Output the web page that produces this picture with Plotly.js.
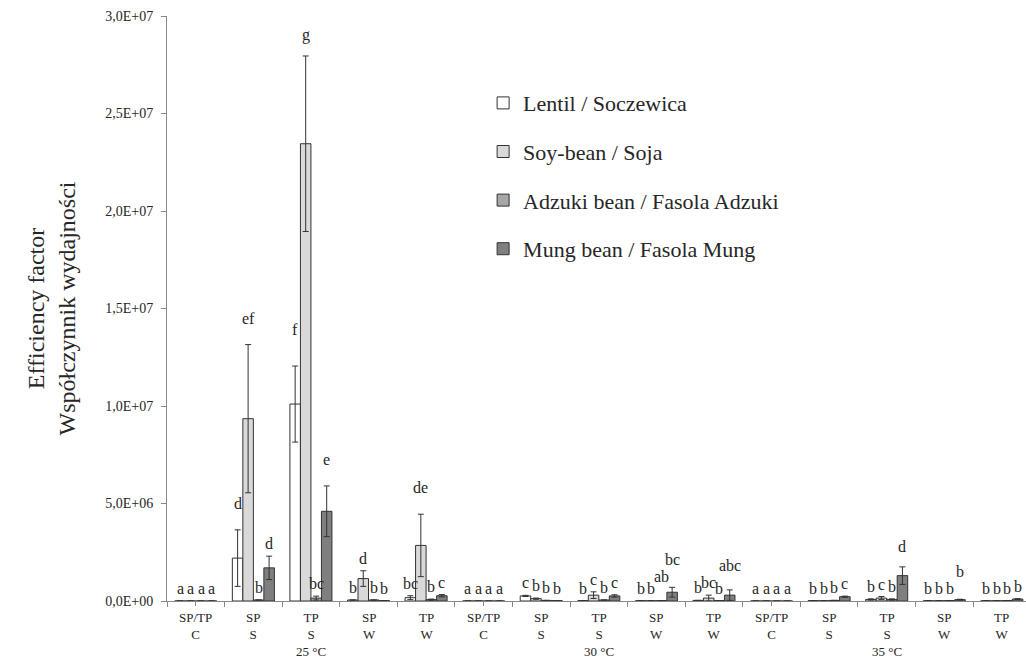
<!DOCTYPE html>
<html>
<head>
<meta charset="utf-8">
<script src="https://cdn.plot.ly/plotly-3.0.1.min.js"></script>
<style>html,body{margin:0;padding:0;background:#fff;}#chart{width:1026px;height:659px;}</style>
</head>
<body>
<div id="chart"></div>
<script>
// ---- data ----
const categories = ["SP/TP<br>C","SP<br>S","TP<br>S<br>25 °C","SP<br>W","TP<br>W",
                    "SP/TP<br>C","SP<br>S","TP<br>S<br>30 °C","SP<br>W","TP<br>W",
                    "SP/TP<br>C","SP<br>S","TP<br>S<br>35 °C","SP<br>W","TP<br>W"];
const seriesNames = ["Lentil / Soczewica","Soy-bean / Soja","Adzuki bean / Fasola Adzuki","Mung bean / Fasola Mung"];
const lentil    = [0, 2.2e6, 10.1e6, 0.05e6, 0.17e6, 0, 0.26e6, 0.02e6, 0.01e6, 0.03e6, 0, 0.02e6, 0.08e6, 0.01e6, 0.01e6];
const lentilErr = [0, 1.45e6, 1.95e6, 0, 0.1e6, 0, 0.03e6, 0, 0, 0, 0, 0, 0.03e6, 0, 0];
const soy       = [0, 9.35e6, 23.45e6, 1.15e6, 2.85e6, 0, 0.12e6, 0.3e6, 0.01e6, 0.15e6, 0, 0.01e6, 0.15e6, 0.01e6, 0.01e6];
const soyErr    = [0, 3.8e6, 4.5e6, 0.4e6, 1.6e6, 0, 0.03e6, 0.17e6, 0, 0.15e6, 0, 0, 0.08e6, 0, 0];
const adzuki    = [0, 0.05e6, 0.15e6, 0.05e6, 0.07e6, 0, 0.03e6, 0.05e6, 0.02e6, 0.02e6, 0, 0.03e6, 0.08e6, 0.02e6, 0.02e6];
const adzukiErr = [0, 0, 0.1e6, 0, 0.03e6, 0, 0, 0, 0, 0, 0, 0, 0.03e6, 0, 0];
const mung      = [0, 1.7e6, 4.6e6, 0.02e6, 0.27e6, 0, 0.02e6, 0.26e6, 0.45e6, 0.3e6, 0, 0.22e6, 1.3e6, 0.07e6, 0.1e6];
const mungErr   = [0, 0.6e6, 1.3e6, 0, 0.06e6, 0, 0, 0.06e6, 0.25e6, 0.27e6, 0, 0.03e6, 0.45e6, 0.02e6, 0.02e6];
const lentilLbl = ["a","d","f","b","bc","a","c","b","b","b","a","b","b","b","b"];
const soyLbl    = ["a","ef","g","d","de","a","b","c","b","bc","a","b","c","b","b"];
const adzukiLbl = ["a","b","bc","b","b","a","b","b","ab","b","a","b","b","b","b"];
const mungLbl   = ["a","d","e","b","c","a","b","c","bc","abc","a","c","d","b","b"];
const yTickVals = [0, 5e6, 1e7, 1.5e7, 2e7, 2.5e7, 3e7];
const yTickText = ["0,0E+00","5,0E+06","1,0E+07","1,5E+07","2,0E+07","2,5E+07","3,0E+07"];

// ---- styling ----
const fills = ["#ffffff", "#d9d9d9", "#a6a6a6", "#7f7f7f"];
const values = [lentil, soy, adzuki, mung];
const errs = [lentilErr, soyErr, adzukiErr, mungErr];
const labels = [lentilLbl, soyLbl, adzukiLbl, mungLbl];
const FONT = "'Liberation Serif', 'Times New Roman', serif";
const TXT = "#262626";
const AX = "#888888";
const BARGAP = 0.27;
const n = categories.length;
const xs = categories.map((_, i) => i);
// extra lifts (px) for labels that were staggered in the original
const lift = {"8-2": 12, "8-3": 15, "9-3": 12, "13-3": 15, "12-3": 8, "2-1": -6, "2-0": 10};

const traces = values.map((v, s) => ({
  type: "bar", x: xs, y: v, name: seriesNames[s],
  legendgroup: "g" + s,
  marker: {color: fills[s], line: {color: "#333333", width: 1}},
  error_y: {type: "data", array: errs[s], visible: true, color: "#333333", thickness: 1, width: 3},
  hoverinfo: "skip"
}));

const bw = (1 - BARGAP) / 4;
const annotations = [];
values.forEach((v, s) => {
  v.forEach((val, i) => {
    const top = val + errs[s][i];
    const shift = (top > 2.5e6 ? 16 : 2) + (lift[i + "-" + s] || 0);
    annotations.push({
      x: i + (s - 1.5) * bw, y: top, xref: "x", yref: "y",
      text: labels[s][i], showarrow: false, yanchor: "bottom", yshift: shift,
      font: {family: FONT, size: 16, color: TXT}
    });
  });
});
categories.forEach((c, i) => {
  annotations.push({
    x: i, y: 0, xref: "x", yref: "paper", text: c, showarrow: false,
    yanchor: "top", yshift: -7, align: "center",
    font: {family: FONT, size: 13, color: TXT}
  });
});

const boundaries = [];
for (let i = 0; i <= n; i++) boundaries.push(i - 0.5);

const layout = {
  width: 1026, height: 659,
  margin: {l: 167, r: 0, t: 16, b: 58},
  font: {family: FONT, color: TXT},
  paper_bgcolor: "#ffffff", plot_bgcolor: "#ffffff",
  barmode: "group", bargap: BARGAP, bargroupgap: 0,
  showlegend: true,
  legend: {x: 0.368, y: 0.887, xanchor: "left", yanchor: "top",
           traceorder: "grouped", tracegroupgap: 17, itemwidth: 30,
           font: {family: FONT, size: 22, color: TXT}, bgcolor: "rgba(0,0,0,0)"},
  xaxis: {range: [-0.5, 14.42], tickmode: "array", tickvals: boundaries, ticktext: boundaries.map(() => ""),
          ticks: "outside", ticklen: 5, tickcolor: AX, showline: true, linecolor: AX, linewidth: 1,
          showgrid: false, zeroline: false, fixedrange: true,
          minor: {tickmode: "array", tickvals: [0, 5, 10], ticks: "outside", ticklen: 4, tickcolor: AX}},
  yaxis: {range: [0, 3e7], tickmode: "array", tickvals: yTickVals, ticktext: yTickText,
          ticks: "outside", ticklen: 5, tickcolor: AX, showline: true, linecolor: AX, linewidth: 1,
          showgrid: false, zeroline: false, fixedrange: true, ticklabelstandoff: 5,
          tickfont: {family: FONT, size: 14, color: TXT},
          title: {text: "Efficiency factor<br>Współczynnik wydajności", standoff: 22,
                  font: {family: FONT, size: 24, color: TXT}}},
  annotations: annotations
};

Plotly.newPlot("chart", traces, layout, {displayModeBar: false, staticPlot: true});
</script>
</body>
</html>
